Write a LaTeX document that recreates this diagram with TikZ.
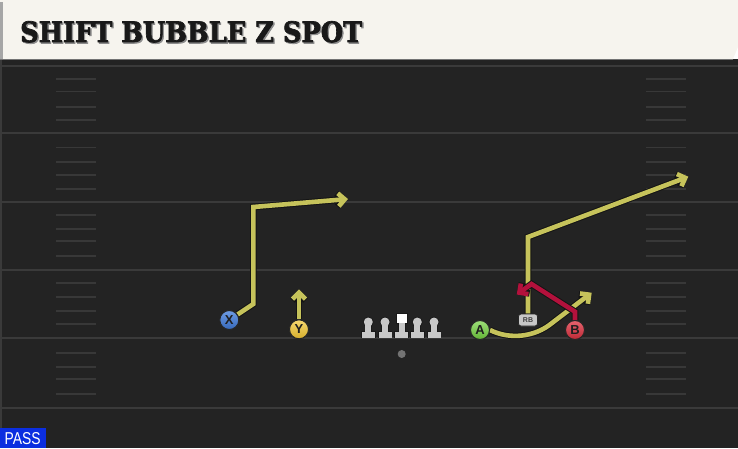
\documentclass[tikz,border=0pt]{standalone}
\usepackage{fontspec}
\setmainfont{DejaVu Serif}
\newfontfamily\ttlfont{DejaVu Serif}[BoldFeatures={FakeBold=2.5}]
\newfontfamily\lsans{Liberation Sans}
\usetikzlibrary{arrows.meta}
\definecolor{fieldbg}{HTML}{232323}
\definecolor{yardc}{HTML}{3A3A3A}
\definecolor{hashc}{HTML}{383838}
\definecolor{hdrbg}{HTML}{F6F4EE}
\definecolor{rtyel}{HTML}{C6C35B}
\definecolor{rtred}{HTML}{B3113C}
\definecolor{xblue}{HTML}{3F7BDB}
\definecolor{yyel}{HTML}{F2C631}
\definecolor{agreen}{HTML}{73D23F}
\definecolor{bred}{HTML}{DE303F}
\definecolor{passblue}{HTML}{0B2EE0}
\definecolor{olgray}{HTML}{C8C8C8}
\newcommand\mytitle{\resizebox{342pt}{21pt}{\ttlfont\bfseries SHIFT BUBBLE Z SPOT}}
\newcommand\rroute[2]{\draw[rtout] #2; \draw[rtin, draw=#1] #2;}
\begin{document}
\begin{tikzpicture}[x=1pt,y=-1pt,
  yard/.style={draw=yardc, line width=2},
  hash/.style={draw=hashc, line width=1.6},
  rtout/.style={draw=black!92, line width=6.6, line join=miter, line cap=butt,
    -{Straight Barb[length=6.5pt,width=13pt,line width=6.6pt]}},
  rtin/.style={line width=4.6, line join=miter, line cap=butt,
    -{Straight Barb[length=6.5pt,width=13pt,line width=4.6pt]}},
  player/.style={circle, minimum size=19pt, inner sep=0, draw=black!85, line width=1,
    font=\lsans\bfseries\fontsize{13}{13}\selectfont, text=black!88},
  rbtag/.style={rounded corners=2.5pt, minimum width=19pt, minimum height=12pt, inner sep=0,
    fill=olgray, draw=black!85, line width=0.8, font=\lsans\bfseries\fontsize{7}{7}\selectfont, text=black!75}
]
\useasboundingbox (0,0) rectangle (738,448);
% field
\fill[fieldbg] (0,59) rectangle (738,448);
\draw[draw=yardc, line width=2] (1,59) -- (1,448);
\foreach \y in {65.7,133,201.5,270,338,408} \draw[yard] (0,\y) -- (738,\y);
\foreach \y in {79,91.3,106.7,120,147.3,162,174.7,188.7,214.7,229,241,255.7,282.7,297,311,324,352.7,367,379,393.7}{
  \draw[hash] (56,\y) -- (96,\y);
  \draw[hash] (646,\y) -- (686,\y);
}
% header
\fill[hdrbg] (0,0) -- (738,0) -- (738,47) -- (733,59) -- (0,59) -- cycle;
\fill[black!35] (0,2) rectangle (3,59);
\draw[black!55, line width=1] (0,59.5) -- (733,59.5);
\node[anchor=south west, inner sep=0, text=black!45] at (21.3,44) {\mytitle};
\node[anchor=south west, inner sep=0, text=black!90] (title) at (20,42.7) {\mytitle};
% PASS
\fill[passblue] (0,428) rectangle (46,448);
\node[anchor=south west, inner sep=0, text=white] (pass) at (4.5,445.3) {\resizebox{36pt}{12pt}{\lsans PASS}};
% linemen: outline pass, then fill pass
\foreach \x in {368.3,385,417.3,434}{
  \draw[black!90, line width=1.6] (\x,322) circle (4.5);
}
\draw[black!90, line width=1.6] (396.7,313.5) rectangle (406.7,323);
\foreach \x in {368.3,385,401.7,417.3,434}{
  \draw[black!90, line width=1.6] (\x-3,322) rectangle (\x+3,333);
  \draw[black!90, line width=1.6] (\x-6.5,332) rectangle (\x+6.5,337.5);
}
\foreach \x in {368.3,385,417.3,434}{
  \fill[olgray] (\x,322) circle (4.5);
}
\foreach \x in {368.3,385,401.7,417.3,434}{
  \fill[olgray] (\x-3,322) rectangle (\x+3,333);
  \fill[olgray] (\x-6.5,332) rectangle (\x+6.5,337.5);
}
\fill[white] (396.7,313.5) rectangle (406.7,323);
\fill[black!55] (401.7,354) circle (4);
% players
\node[player, top color=xblue!75!white, bottom color=xblue!85!black] (X) at (229.3,320) {X};
\node[player, top color=yyel!70!white, bottom color=yyel!88!black] (Y) at (299,329.3) {Y};
\node[player, top color=agreen!70!white, bottom color=agreen!85!black] (A) at (480,330) {A};
\node[player, top color=bred!75!white, bottom color=bred!85!black] (B) at (575,330) {B};
\node[rbtag] (RB) at (528,320) {RB};
% waypoints
\coordinate (x1) at (253.3,304);
\coordinate (x2) at (253.3,207);
\coordinate (xe) at (348,199);
\coordinate (ye) at (299,289.3);
\coordinate (a1) at (552,323);
\coordinate (ae) at (591.7,292.7);
\coordinate (r1) at (528,237);
\coordinate (re) at (688.3,176.7);
\coordinate (b1) at (575,311.7);
\coordinate (b2) at (531.5,284);
\coordinate (be) at (516.7,294.5);
% routes
\rroute{rtyel}{(RB.north) -- (r1) -- (re)}
\rroute{rtyel}{(A.east) .. controls (510,340) and (535,337) .. (a1) -- (ae)}
\rroute{rtred}{(B.north) -- (b1) -- (b2) -- (be)}
\rroute{rtyel}{(X) -- (x1) -- (x2) -- (xe)}
\rroute{rtyel}{(Y.north) -- (ye)}
% players on top of routes
\node[player, top color=xblue!75!white, bottom color=xblue!85!black] at (X) {X};
\node[player, top color=yyel!70!white, bottom color=yyel!88!black] at (Y) {Y};
\node[player, top color=agreen!70!white, bottom color=agreen!85!black] at (A) {A};
\node[player, top color=bred!75!white, bottom color=bred!85!black] at (B) {B};
\node[rbtag] at (RB) {RB};
\end{tikzpicture}
\end{document}
